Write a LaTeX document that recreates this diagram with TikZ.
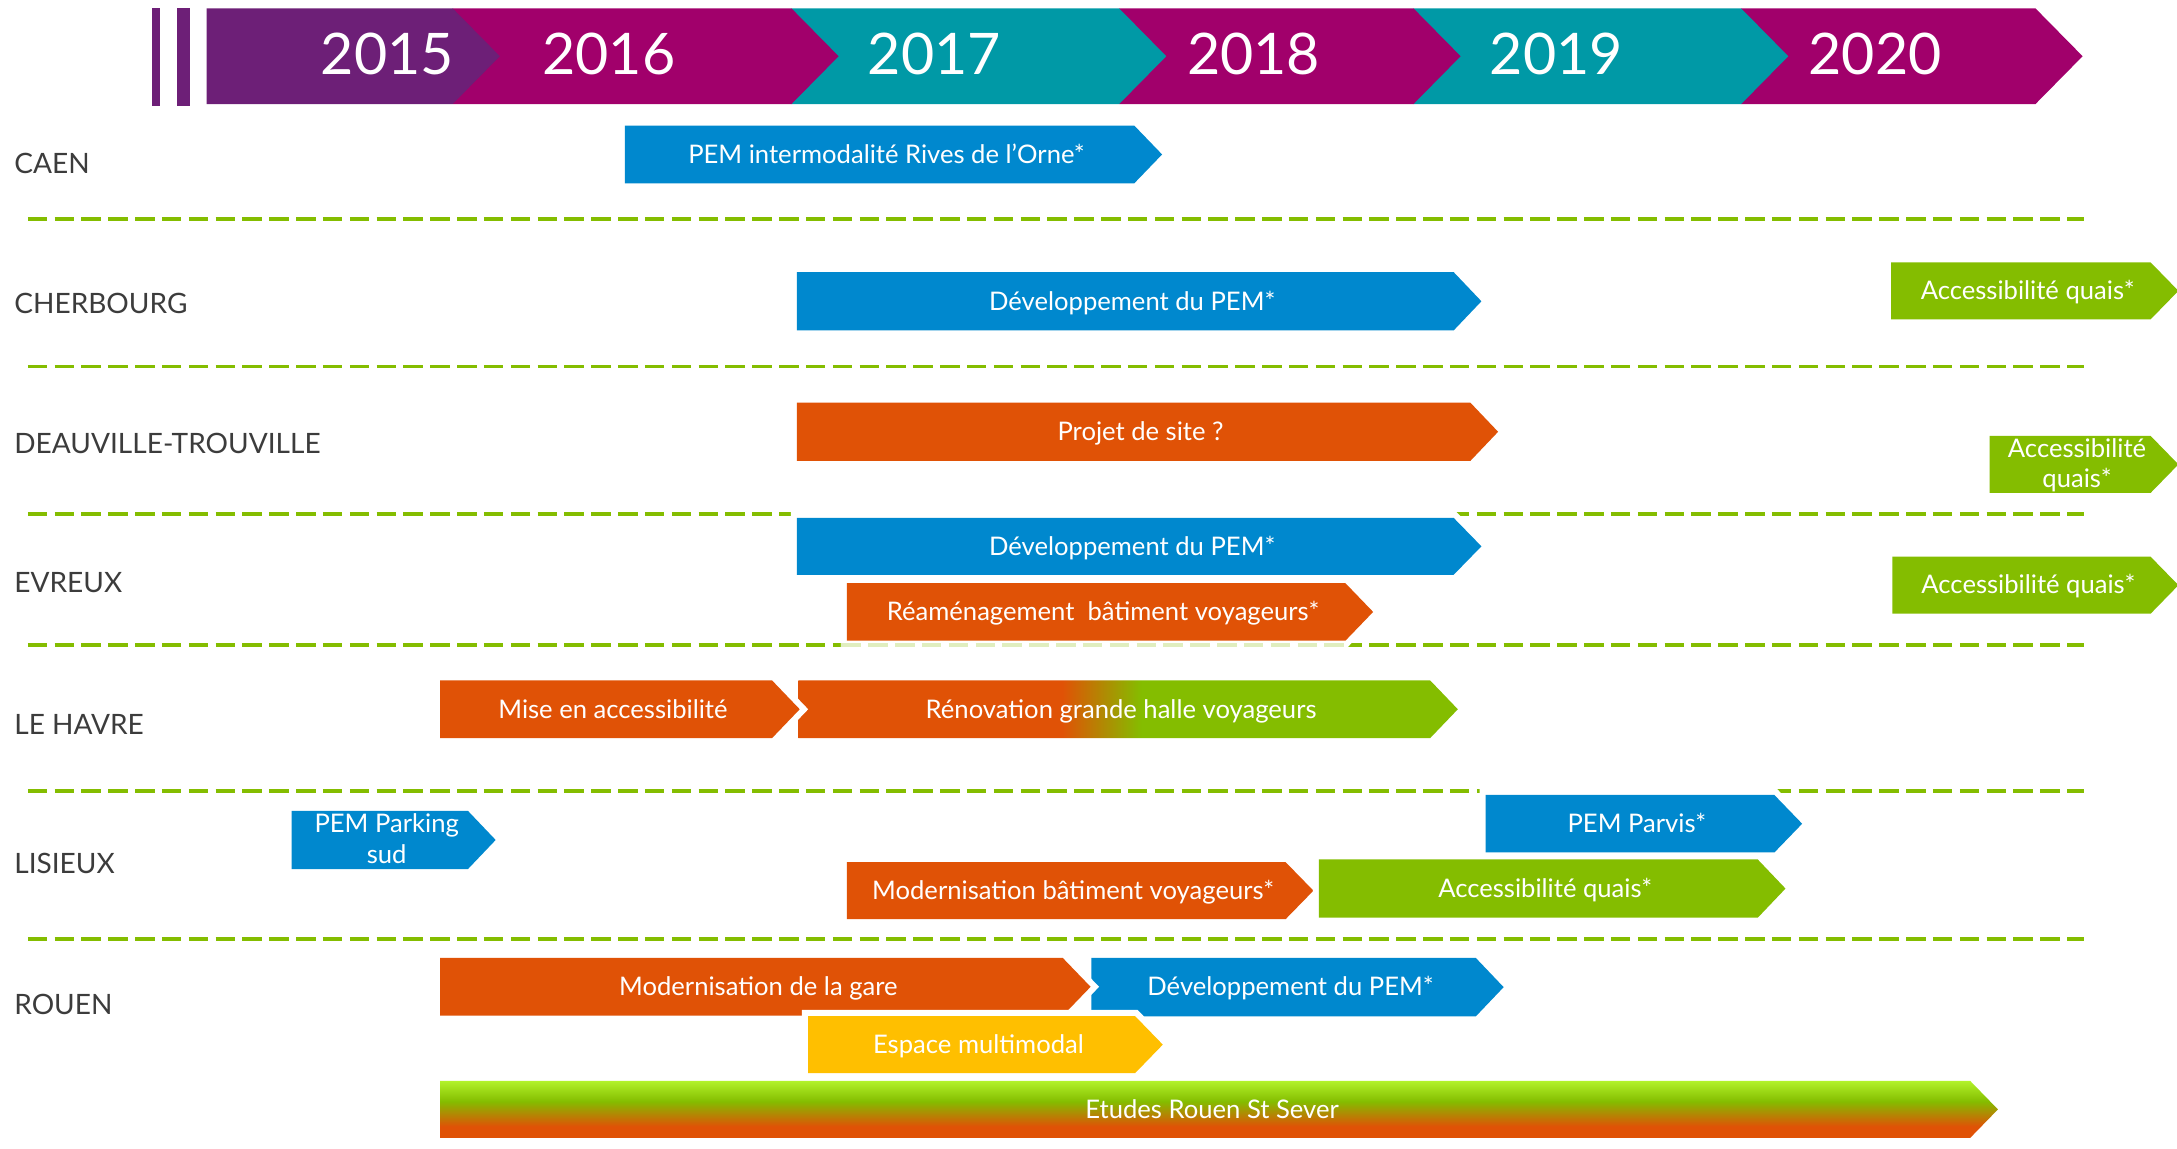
\documentclass[tikz,border=0pt]{standalone}
\usepackage{fontspec}
\setmainfont{Lato}

\definecolor{anviolet}{HTML}{6D1F77}
\definecolor{anmagenta}{HTML}{A1006B}
\definecolor{ancyan}{HTML}{0099A6}
\definecolor{tbleu}{HTML}{0088CE}
\definecolor{torange}{HTML}{E05206}
\definecolor{tvert}{HTML}{84BD00}
\definecolor{tlime}{HTML}{B2F22A}
\definecolor{tjaune}{HTML}{FFBF00}
\definecolor{tgris}{HTML}{3C3C3C}

\pgfdeclarehorizontalshading{renov}{100bp}{color(0bp)=(torange); color(25bp)=(torange); color(45bp)=(torange); color(51bp)=(tvert); color(75bp)=(tvert); color(100bp)=(tvert)}
\pgfdeclareverticalshading{etudes}{100bp}{color(0bp)=(torange); color(25bp)=(torange); color(35bp)=(torange); color(57bp)=(tvert); color(75bp)=(tlime); color(100bp)=(tlime)}

\tikzset{
    tachefond/.style={preaction={draw=white, line width=5pt}},
    lbl/.style={text=white, font=\fontsize{10.5}{12.5}\selectfont, inner sep=0pt, text height=0.75em, text depth=0.03em},
    ville/.style={text=tgris, font=\fontsize{11.5}{14}\selectfont, inner sep=0pt, anchor=base west},
    an/.style={text=white, font=\fontsize{23.5}{24}\selectfont, inner sep=0pt, anchor=base},
    sep/.style={draw=tvert, line width=1.6pt, dash pattern=on 8pt off 3pt}
}

% [fond] nom, debut, fin, haut, bas, texte
\newcommand{\tache}[7][]{%
    \path[tachefond,#1] (#3,#5) -- (#4,#5) -- ({#4+20},{(#5+#6)/2}) -- (#4,#6) -- (#3,#6) -- cycle;
    \node[lbl] (#2) at ({(#3+#4)/2+5},{(#5+#6)/2}) {#7};
}
\newcommand{\deuxlignes}[2]{\begin{tabular}{@{}c@{}}#1\\#2\end{tabular}}
\newcommand{\annee}[3]{\fill[#3] (#1,6) -- (#2,6) -- ({#2+34},40.5) -- (#2,75) -- (#1,75) -- cycle;}

\begin{document}
\begin{tikzpicture}[x=0.02cm, y=-0.02cm]
    \useasboundingbox (0,0) rectangle (1568,827);

    % bandeau des annees
    \fill[anviolet] (109.7,6) rectangle (115.2,76);
    \fill[anviolet] (127.2,6) rectangle (136.9,76);
    \annee{1254}{1466}{anmagenta}
    \annee{1018}{1254}{ancyan}
    \annee{806}{1018}{anmagenta}
    \annee{570}{806}{ancyan}
    \annee{326}{570}{anmagenta}
    \annee{148.8}{326}{anviolet}
    \node[an] (a15) at (279, 54)    {2015};
    \node[an] (a16) at (438.5, 54)  {2016};
    \node[an] (a17) at (673, 54)    {2017};
    \node[an] (a18) at (903, 54)    {2018};
    \node[an] (a19) at (1121, 54)   {2019};
    \node[an] (a20) at (1350.5, 54) {2020};

    % villes
    \node[ville] (caen) at (10, 124.7)      {CAEN};
    \node[ville] (cherbourg) at (10, 225.8) {CHERBOURG};
    \node[ville] (deauville) at (10, 326.9) {DEAUVILLE-TROUVILLE};
    \node[ville] (evreux) at (10, 427)      {EVREUX};
    \node[ville] (lehavre) at (10, 528.7)   {LE HAVRE};
    \node[ville] (lisieux) at (10, 629.5)   {LISIEUX};
    \node[ville] (rouen) at (10, 731)       {ROUEN};

    % separations
    \draw[sep] (20,158) -- (1501,158);
    \draw[sep] (20,264) -- (1501,264);
    \draw[sep] (20,370) -- (1501,370);
    \draw[sep] (20,464.5) -- (1501,464.5);
    \draw[sep] (20,570) -- (1501,570);
    \draw[sep] (20,676) -- (1501,676);

    % CAEN
    \tache[fill=tbleu]{caenpem}{450}{817}{90.5}{132}{PEM intermodalité Rives de l’Orne*}
    % CHERBOURG
    \tache[fill=tbleu]{cherdev}{574}{1047}{196}{238}{Développement du PEM*}
    \tache[fill=tvert]{cheracc}{1362}{1549}{189}{230}{Accessibilité quais*}
    % DEAUVILLE-TROUVILLE
    \tache[fill=torange]{deaprojet}{574}{1059}{290}{332}{Projet de site ?}
    \tache[fill=tvert]{deaacc}{1433}{1549}{314}{355}{\deuxlignes{Accessibilité}{quais*}}
    % EVREUX
    \tache[fill=tbleu]{evrdev}{574}{1047}{373}{414}{Développement du PEM*}
    \tache[fill=torange]{evrream}{610}{969}{420}{461.5}{Réaménagement~ bâtiment voyageurs*}
    \tache[fill=tvert]{evracc}{1363}{1549}{401}{442}{Accessibilité quais*}
    \draw[sep, opacity=0.25] (606,464.5) -- (971,464.5);
    % LE HAVRE
    \tache[shade, shading=renov]{havrenov}{575}{1030}{490}{531.7}{Rénovation grande halle voyageurs}
    \tache[fill=torange]{havmise}{317}{556}{490}{531.7}{Mise en accessibilité}
    % LISIEUX
    \tache[fill=tbleu]{lisparking}{210}{337}{584}{626}{\deuxlignes{PEM Parking}{sud}}
    \tache[fill=tbleu]{lisparvis}{1070}{1278}{572.6}{614}{PEM Parvis*}
    \tache[fill=torange]{lismodern}{610}{926}{621}{662}{Modernisation bâtiment voyageurs*}
    \tache[fill=tvert]{lisacc}{950}{1266}{619}{661}{Accessibilité quais*}
    % ROUEN
    \tache[fill=tbleu]{roudev}{786}{1063}{690}{732}{Développement du PEM*}
    \tache[fill=torange]{roumodern}{317}{765.5}{690}{731.5}{Modernisation de la gare}
    \tache[fill=tjaune]{rouespace}{582}{817.5}{731.8}{773}{Espace multimodal}
    \tache[shade, shading=etudes]{rouetudes}{317}{1419}{778.5}{819.6}{Etudes Rouen St Sever}
\end{tikzpicture}
\end{document}
